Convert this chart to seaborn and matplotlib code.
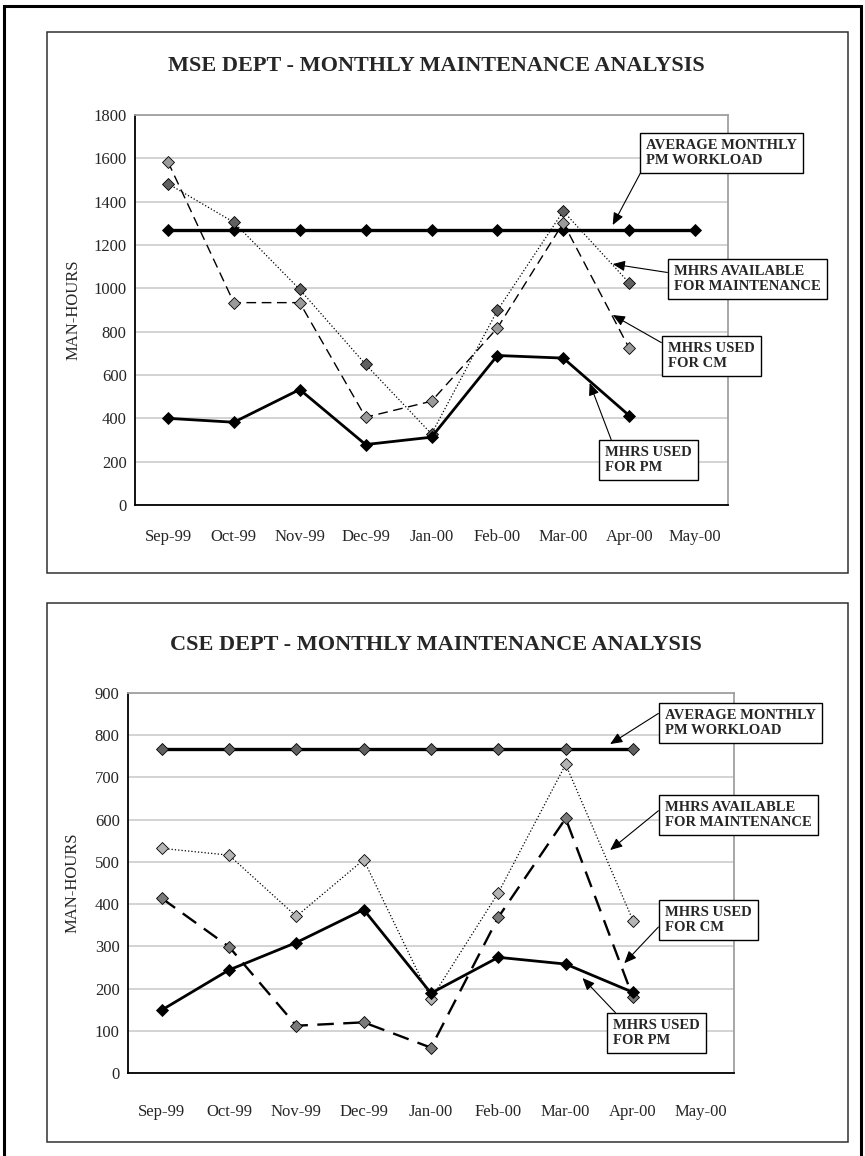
import numpy as np
import seaborn as sns
import matplotlib
matplotlib.use("Agg")
from matplotlib import pyplot as plt
from matplotlib.patches import Rectangle

# data
months = ["Sep-99", "Oct-99", "Nov-99", "Dec-99", "Jan-00", "Feb-00", "Mar-00", "Apr-00", "May-00"]

mse_avg = [1270, 1270, 1270, 1270, 1270, 1270, 1270, 1270, 1270]
mse_avail = [1483, 1305, 995, 649, 328, 898, 1356, 1025]
mse_cm = [1584, 934, 934, 405, 479, 817, 1302, 724]
mse_pm = [400, 382, 533, 279, 313, 690, 678, 413]

cse_avg = [768, 768, 768, 768, 768, 768, 768, 768]
cse_avail = [532, 516, 371, 505, 175, 427, 731, 361]
cse_cm = [414, 299, 112, 120, 60, 369, 603, 179]
cse_pm = [149, 244, 309, 387, 189, 274, 258, 191]

lbl_avg = "AVERAGE MONTHLY\nPM WORKLOAD"
lbl_avail = "MHRS AVAILABLE\nFOR MAINTENANCE"
lbl_cm = "MHRS USED\nFOR CM"
lbl_pm = "MHRS USED\nFOR PM"

sns.set_style("white")
plt.rcParams["font.family"] = ["Liberation Serif", "DejaVu Serif"]

W, H = 865, 1156
fig = plt.figure(figsize=(W / 100, H / 100), dpi=100)


def rect(x0, y0, x1, y1):
    return [x0 / W, 1 - y1 / H, (x1 - x0) / W, (y1 - y0) / H]


def fpos(x, y):
    return (x / W, 1 - y / H)


# outer frame and chart boxes
fig.add_artist(Rectangle((4 / W, -0.01), 857 / W, 1 - 6 / H + 0.01, transform=fig.transFigure,
                         fill=False, edgecolor="black", linewidth=2.2))
for y0, y1 in [(32, 573), (603, 1142)]:
    fig.add_artist(Rectangle((47 / W, 1 - y1 / H), 801 / W, (y1 - y0) / H, transform=fig.transFigure,
                             fill=False, edgecolor="#303030", linewidth=1.1))


def draw_chart(ax, avg, avail, cm, pm, ymax, ystep, avg_face, avail_face, cm_face, cm_lw, xpad):
    sns.lineplot(x=np.arange(len(avg)), y=avg, ax=ax, color="black", linewidth=2.4,
                 marker="D", markersize=6, markerfacecolor=avg_face, markeredgecolor="black",
                 markeredgewidth=0.6)
    sns.lineplot(x=np.arange(len(avail)), y=avail, ax=ax, color="black", linewidth=0.9,
                 linestyle=":", marker="D", markersize=6, markerfacecolor=avail_face,
                 markeredgecolor="black", markeredgewidth=0.6)
    sns.lineplot(x=np.arange(len(cm)), y=cm, ax=ax, color="black", linewidth=cm_lw,
                 dashes=(7, 4), marker="D", markersize=6, markerfacecolor=cm_face,
                 markeredgecolor="black", markeredgewidth=0.6)
    sns.lineplot(x=np.arange(len(pm)), y=pm, ax=ax, color="black", linewidth=2.0,
                 marker="D", markersize=6, markerfacecolor="black", markeredgecolor="black",
                 markeredgewidth=0.6)
    ax.set_xlim(-0.5, len(months) - 0.5)
    ax.set_ylim(0, ymax)
    ax.set_yticks(np.arange(0, ymax + 1, ystep))
    ax.set_xticks(np.arange(-0.5, len(months), 1.0))
    ax.set_xticklabels([])
    ax.set_xticks(np.arange(len(months)), minor=True)
    ax.set_xticklabels(months, minor=True, fontsize=12)
    ax.tick_params(axis="x", which="minor", length=0, pad=xpad)
    ax.tick_params(axis="x", which="major", length=5, width=1, color="black", direction="out")
    ax.tick_params(axis="y", length=4, width=1, color="black", direction="out", labelsize=12, pad=2)
    ax.yaxis.grid(True, color="#c8c8c8", linewidth=1.1)
    ax.set_axisbelow(True)
    for s in ["left", "bottom"]:
        ax.spines[s].set_color("black")
        ax.spines[s].set_linewidth(1.3)
    for s in ["top", "right"]:
        ax.spines[s].set_color("#a0a0a0")
        ax.spines[s].set_linewidth(1.3)
    ax.set_xlabel("")
    ax.set_ylabel("MAN-HOURS", fontsize=12)


def note(ax, text, tip, xy_px, relpos):
    ax.annotate(text, xy=tip, xycoords="data", xytext=fpos(*xy_px), textcoords="figure fraction",
                ha="left", va="center", fontsize=10.5, fontweight="bold", linespacing=1.15,
                bbox=dict(boxstyle="square,pad=0.42", facecolor="white", edgecolor="black", linewidth=1),
                arrowprops=dict(arrowstyle="-|>,head_length=0.7,head_width=0.3", color="black",
                                linewidth=0.8, relpos=relpos, shrinkA=0, shrinkB=0))


# MSE chart
ax1 = fig.add_axes(rect(135, 115, 728, 505))
draw_chart(ax1, mse_avg, mse_avail, mse_cm, mse_pm, 1800, 200,
           "black", "#606060", "#9a9a9a", 1.0, 17)
ax1.yaxis.set_label_coords(-0.091, 0.5)
fig.text(*fpos(436, 66), "MSE DEPT - MONTHLY MAINTENANCE ANALYSIS", ha="center", va="center",
         fontsize=16, fontweight="bold")
note(ax1, lbl_avg, (6.75, 1292), (646, 153), (0, 0.15))
note(ax1, lbl_avail, (6.75, 1112), (674, 279), (0, 0.7))
note(ax1, lbl_cm, (6.75, 877), (668, 356), (0, 0.85))
note(ax1, lbl_pm, (6.4, 563), (605, 460), (0.1, 1))

# CSE chart
ax2 = fig.add_axes(rect(128, 693, 734, 1073))
draw_chart(ax2, cse_avg, cse_avail, cse_cm, cse_pm, 900, 100,
           "#606060", "#b4b4b4", "#7a7a7a", 1.7, 22)
ax2.yaxis.set_label_coords(-0.078, 0.5)
fig.text(*fpos(436, 645), "CSE DEPT - MONTHLY MAINTENANCE ANALYSIS", ha="center", va="center",
         fontsize=16, fontweight="bold")
note(ax2, lbl_avg, (6.66, 779), (665, 723), (0, 1))
note(ax2, lbl_avail, (6.66, 528), (665, 815), (0, 0.85))
note(ax2, lbl_cm, (6.87, 260), (665, 920), (0, 0.5))
note(ax2, lbl_pm, (6.25, 225), (613, 1033), (0.1, 1))

fig.savefig("out.png", dpi=100)
